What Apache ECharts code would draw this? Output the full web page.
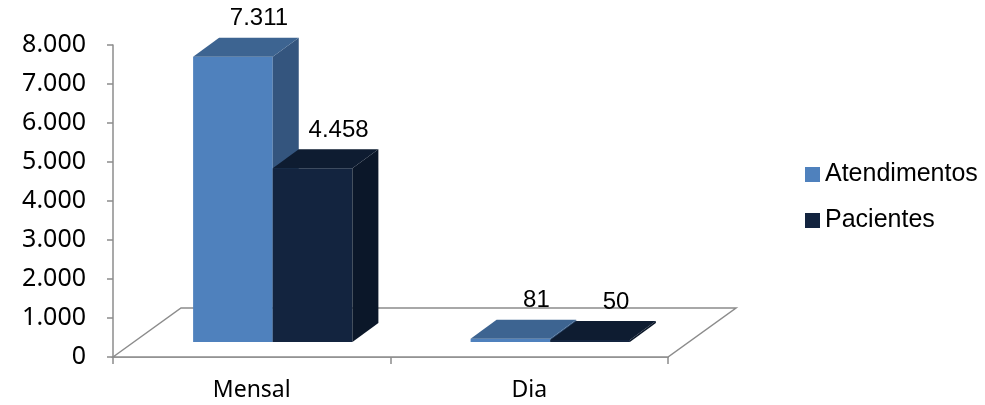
<!DOCTYPE html>
<html>
<head>
<meta charset="utf-8">
<script src="https://cdn.jsdelivr.net/npm/echarts@6/dist/echarts.min.js"></script>
<style>
html,body{margin:0;padding:0;background:#fff;}
#chart{width:985px;height:405px;}
</style>
</head>
<body>
<div id="chart"></div>
<script>
const categories = ['Mensal', 'Dia'];
const seriesNames = ['Atendimentos', 'Pacientes'];
const atendimentos = [7311, 81];
const pacientes = [4458, 50];
const yMin = 0, yMax = 8000, yStep = 1000;

const palette = [
  { front: '#4F81BD', top: '#3D6491', side: '#34557E' },
  { front: '#13243F', top: '#0E1C31', side: '#0B1729' }
];

function fmt(v) {
  return String(Math.round(v)).replace(/\B(?=(\d{3})+(?!\d))/g, '.');
}

// pseudo-3D geometry (pixels)
const FLOOR_DX = 68, FLOOR_DY = -49;
const FRONT_DX = 21, FRONT_DY = -15;
const BAR_DX = 26, BAR_DY = -19;
const BAR_FRAC = 0.287;

function barRenderer(sIdx) {
  return function (params, api) {
    const cat = api.value(0), val = api.value(1);
    const base = api.coord([cat, 0]);
    const top = api.coord([cat, val]);
    const band = api.size([1, 0])[0];
    const bw = band * BAR_FRAC;
    const x0 = base[0] - bw + sIdx * bw + FRONT_DX;
    const x1 = x0 + bw;
    const yb = base[1] + FRONT_DY;
    const yt = top[1] + FRONT_DY;
    const c = palette[sIdx];
    return {
      type: 'group',
      children: [
        { type: 'rect', shape: { x: x0, y: yt, width: bw, height: Math.max(yb - yt, 0.5) }, style: { fill: c.front } },
        { type: 'polygon', shape: { points: [[x1, yt], [x1 + BAR_DX, yt + BAR_DY], [x1 + BAR_DX, yb + BAR_DY], [x1, yb]] }, style: { fill: c.side } },
        { type: 'polygon', shape: { points: [[x0, yt], [x1, yt], [x1 + BAR_DX, yt + BAR_DY], [x0 + BAR_DX, yt + BAR_DY]] }, style: { fill: c.top } },
        { type: 'text', x: x0 + bw / 2 + BAR_DX, y: yt + BAR_DY - 7,
          style: { text: fmt(val), fill: '#000', font: '24px "Liberation Sans", Arial, sans-serif', align: 'center', verticalAlign: 'bottom' } }
      ]
    };
  };
}

function floorRenderer(params, api) {
  const band = api.size([1, 0])[0];
  const L = api.coord([0, 0])[0] - band / 2;
  const R = api.coord([categories.length - 1, 0])[0] + band / 2;
  const yb = api.coord([0, 0])[1];
  return {
    type: 'polygon',
    shape: { points: [[L, yb], [L + FLOOR_DX, yb + FLOOR_DY], [R + FLOOR_DX, yb + FLOOR_DY], [R, yb]] },
    style: { fill: '#fff', stroke: '#8C8C8C', lineWidth: 1.5 }
  };
}

const chart = echarts.init(document.getElementById('chart'), null, { renderer: 'canvas' });
chart.setOption({
  animation: false,
  backgroundColor: '#fff',
  grid: { left: 113, right: 317, top: 45, bottom: 48 },
  legend: {
    orient: 'vertical', left: 800, top: 157,
    data: seriesNames,
    icon: 'rect', itemWidth: 15, itemHeight: 15, itemGap: 21,
    textStyle: { fontFamily: '"Liberation Sans", Arial, sans-serif', fontSize: 25, color: '#000', lineHeight: 25 },
    itemTextGap: 6,
    selectedMode: false
  },
  xAxis: {
    type: 'category', data: categories,
    axisLine: { lineStyle: { color: '#8C8C8C', width: 1.5 } },
    axisTick: { show: true, length: 7, lineStyle: { color: '#8C8C8C', width: 1.5 } },
    axisLabel: { margin: 22, color: '#000', fontFamily: '"Noto Sans", "Open Sans", sans-serif', fontSize: 23 },
    splitLine: { show: false }
  },
  yAxis: {
    type: 'value', min: yMin, max: yMax, interval: yStep,
    axisLine: { show: true, lineStyle: { color: '#8C8C8C', width: 1.5 } },
    axisTick: { show: true, length: 6, lineStyle: { color: '#8C8C8C', width: 1.5 } },
    axisLabel: { margin: 27, color: '#000', fontFamily: '"Noto Sans", "Open Sans", sans-serif', fontSize: 25, formatter: fmt },
    splitLine: { show: false }
  },
  series: [
    { type: 'custom', name: 'floor', silent: true, clip: false, z: 1,
      renderItem: floorRenderer, data: [[0, 0]], encode: { x: 0, y: 1 } },
    { type: 'custom', name: seriesNames[0], clip: false, z: 2,
      itemStyle: { color: palette[0].front },
      renderItem: barRenderer(0), data: categories.map((c, i) => [i, atendimentos[i]]), encode: { x: 0, y: 1 } },
    { type: 'custom', name: seriesNames[1], clip: false, z: 3,
      itemStyle: { color: palette[1].front },
      renderItem: barRenderer(1), data: categories.map((c, i) => [i, pacientes[i]]), encode: { x: 0, y: 1 } }
  ]
});
</script>
</body>
</html>
